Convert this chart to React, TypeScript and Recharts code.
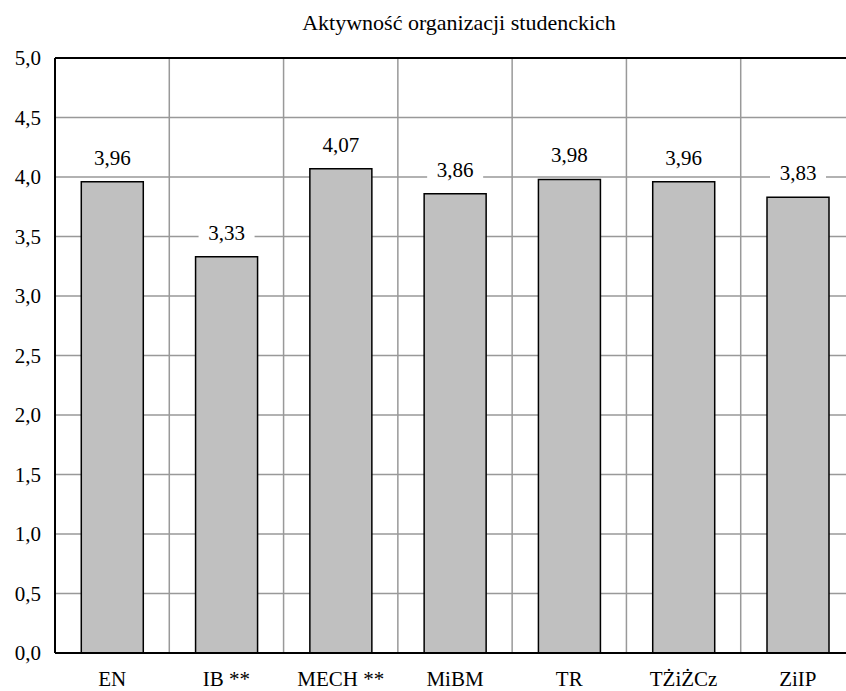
import React from 'react';
import { BarChart, Bar, XAxis, YAxis, CartesianGrid, LabelList, ReferenceLine } from 'recharts';

const categories = ['EN', 'IB **', 'MECH **', 'MiBM', 'TR', 'TŻiŻCz', 'ZiIP'];
const values = [3.96, 3.33, 4.07, 3.86, 3.98, 3.96, 3.83];
const yTicks = [0, 0.5, 1, 1.5, 2, 2.5, 3, 3.5, 4, 4.5, 5];

const data = categories.map((name, i) => ({ name, value: values[i] }));

const FONT = 'Liberation Serif';
const fmt = (v: number, d: number) => v.toFixed(d).replace('.', ',');

const ValueLabel = (props: any) => {
  const { x, y, width, value } = props;
  const cx = x + width / 2;
  const text = fmt(value, 2);
  const w = 56;
  return (
    <g>
      <rect x={cx - w / 2} y={y - 38} width={w} height={28} fill="#fff" />
      <text x={cx} y={y - 17} textAnchor="middle" fontSize={21} style={{ fontFamily: FONT }} fill="#000">
        {text}
      </text>
    </g>
  );
};

export default function App() {
  return (
    <div style={{ position: 'absolute', left: 0, top: 0, width: 846, height: 691, overflow: 'hidden', background: '#fff', fontFamily: FONT }}>
      <svg width={846} height={40} style={{ position: 'absolute', left: 0, top: 0 }}>
        <text x={459} y={30} textAnchor="middle" fontSize={22} style={{ fontFamily: FONT }} fill="#000">
          Aktywność organizacji studenckich
        </text>
      </svg>
      <div style={{ position: 'absolute', left: 0, top: 0 }}>
        <BarChart
          width={870}
          height={691}
          data={data}
          margin={{ top: 58, right: 15, left: 0, bottom: 0 }}
          barCategoryGap="23%"
          style={{ fontFamily: FONT }}
        >
          <CartesianGrid
            stroke="#999"
            strokeWidth={1.5}
            verticalCoordinatesGenerator={({ offset }: any) =>
              categories.slice(1).map((_, i) => offset.left + ((i + 1) * offset.width) / categories.length)
            }
          />
          <XAxis
            dataKey="name"
            axisLine={{ stroke: '#000', strokeWidth: 2 }}
            tickLine={false}
            tickSize={0}
            tickMargin={18}
            height={38}
            interval={0}
            tick={{ fontSize: 21, fontFamily: FONT, fill: '#000' }}
          />
          <YAxis
            domain={[0, 5]}
            ticks={yTicks}
            width={55}
            axisLine={{ stroke: '#000', strokeWidth: 2 }}
            tickLine={false}
            tickSize={0}
            tickMargin={14}
            tickFormatter={(v: number) => fmt(v, 1)}
            tick={{ fontSize: 21, fontFamily: FONT, fill: '#000' }}
          />
          <ReferenceLine y={5} stroke="#000" strokeWidth={2} />
          <Bar dataKey="value" fill="#c0c0c0" stroke="#000" strokeWidth={1.5} isAnimationActive={false}>
            <LabelList dataKey="value" content={ValueLabel} />
          </Bar>
        </BarChart>
      </div>
    </div>
  );
}
